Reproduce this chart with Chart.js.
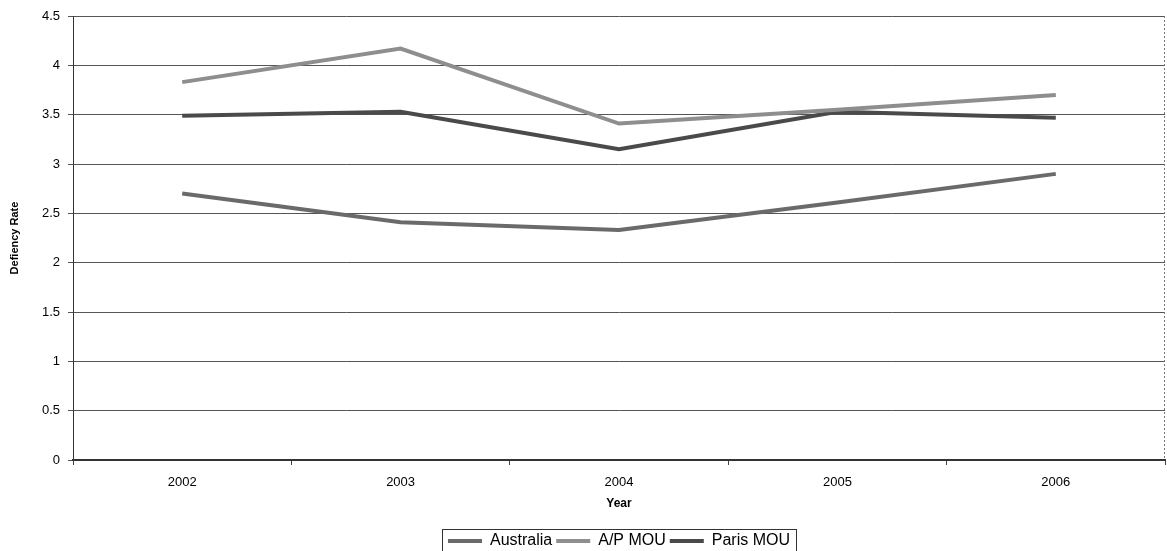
<!DOCTYPE html>
<html>
<head>
<meta charset="utf-8">
<script src="https://cdn.jsdelivr.net/npm/chart.js@4"></script>
<style>
  html, body { margin: 0; padding: 0; background: #ffffff; }
  #wrap { width: 1167px; height: 551px; overflow: hidden; }
</style>
</head>
<body>
<div id="wrap"><canvas id="c" width="1167" height="551"></canvas></div>
<script>
const years = ["2002", "2003", "2004", "2005", "2006"];
const australia = [2.70, 2.41, 2.33, 2.61, 2.90];
const apMou = [3.83, 4.17, 3.41, 3.55, 3.70];
const parisMou = [3.49, 3.53, 3.15, 3.53, 3.47];
const yTicks = [0, 0.5, 1, 1.5, 2, 2.5, 3, 3.5, 4, 4.5];

const FONT = "'Liberation Sans', Arial, sans-serif";

const legendBox = {
  id: 'legendBox',
  afterDraw(chart) {
    const lg = chart.legend;
    const hb = lg.legendHitBoxes;
    if (!hb || !hb.length) return;
    const ctx = chart.ctx;
    const l = Math.min(...hb.map(h => h.left)) - 6;
    const r = Math.max(...hb.map(h => h.left + h.width)) + 6;
    const t = Math.min(...hb.map(h => h.top)) - 4;
    const b = Math.max(...hb.map(h => h.top + h.height)) + 4;
    ctx.save();
    ctx.strokeStyle = '#333';
    ctx.lineWidth = 1;
    ctx.strokeRect(Math.round(l) + 0.5, Math.round(t) + 0.5, Math.round(r - l), Math.round(b - t));
    // right plot border (dotted)
    const ca = chart.chartArea;
    ctx.strokeStyle = '#777';
    ctx.setLineDash([2, 2]);
    ctx.beginPath();
    ctx.moveTo(Math.round(ca.right) - 0.5, ca.top);
    ctx.lineTo(Math.round(ca.right) - 0.5, ca.bottom);
    ctx.stroke();
    ctx.restore();
  }
};

new Chart(document.getElementById('c'), {
  type: 'line',
  data: {
    labels: years,
    datasets: [
      { label: 'Australia', data: australia, borderColor: '#6a6a6a', backgroundColor: '#6a6a6a', borderWidth: 4, pointRadius: 0, tension: 0 },
      { label: 'A/P MOU', data: apMou, borderColor: '#8e8e8e', backgroundColor: '#8e8e8e', borderWidth: 4, pointRadius: 0, tension: 0 },
      { label: 'Paris MOU', data: parisMou, borderColor: '#4a4a4a', backgroundColor: '#4a4a4a', borderWidth: 4, pointRadius: 0, tension: 0 }
    ]
  },
  options: {
    responsive: false,
    animation: false,
    devicePixelRatio: 1,
    layout: { padding: { top: 16, right: 2, left: 0, bottom: -8 } },
    plugins: {
      tooltip: { enabled: false },
      legend: {
        position: 'bottom',
        fullSize: false,
        labels: {
          usePointStyle: true,
          pointStyle: 'line',
          pointStyleWidth: 34,
          boxHeight: 16,
          padding: 4,
          color: '#000',
          font: { family: FONT, size: 16 }
        }
      }
    },
    scales: {
      x: {
        offset: true,
        grid: { offset: true, drawOnChartArea: false, drawTicks: true, tickLength: 5, color: '#444' },
        border: { display: true, color: '#333', width: 2 },
        ticks: { color: '#000', font: { family: FONT, size: 13 }, padding: 10, maxRotation: 0 },
        title: { display: true, text: 'Year', color: '#000', font: { family: FONT, size: 12, weight: 'bold' }, padding: { top: 4, bottom: 18 } },
        afterFit(s) { s.height = 69; }
      },
      y: {
        min: 0,
        max: 4.5,
        afterBuildTicks(s) { s.ticks = yTicks.map(v => ({ value: v })); },
        grid: { color: '#555', lineWidth: 1, drawTicks: true, tickLength: 5 },
        border: { display: true, color: '#333', width: 1 },
        ticks: { color: '#000', font: { family: FONT, size: 13 }, padding: 8, callback: (v) => String(v) },
        title: { display: true, text: 'Defiency Rate', color: '#000', font: { family: FONT, size: 11, weight: 'bold' }, padding: { top: 8, bottom: 0 } },
        afterFit(s) { s.width = 73; }
      }
    }
  },
  plugins: [legendBox]
});
</script>
</body>
</html>
